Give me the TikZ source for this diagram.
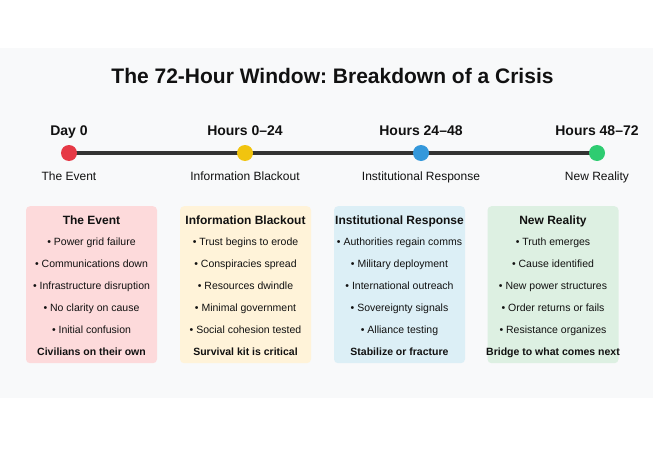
\documentclass[tikz,border=0pt]{standalone}
\usepackage{fontspec}
\setmainfont{Liberation Sans}
\usetikzlibrary{positioning}
\definecolor{panelbg}{HTML}{F8F9FA}
\definecolor{axisgray}{HTML}{333333}
\definecolor{ink}{HTML}{111111}
\definecolor{dotred}{HTML}{E63946}
\definecolor{dotyellow}{HTML}{F1C40F}
\definecolor{dotblue}{HTML}{3498DB}
\definecolor{dotgreen}{HTML}{2ECC71}
\definecolor{cardred}{HTML}{FDDADB}
\definecolor{cardyellow}{HTML}{FFF3D9}
\definecolor{cardblue}{HTML}{DCEFF6}
\definecolor{cardgreen}{HTML}{DDF0E2}
\frenchspacing

\begin{document}
\begin{tikzpicture}
[x=1pt,y=1pt,on grid,node distance=22pt,text=ink,
  empt node/.style={inner sep=0pt,outer sep=0pt},
  dot node/.style={circle,minimum size=16pt,inner sep=0pt},
  top node/.style={empt node,text height=10.5pt,text depth=3pt,
    font=\fontsize{14}{16}\selectfont\bfseries},
  low node/.style={empt node,text height=9pt,text depth=2.5pt,
    font=\fontsize{12}{14}\selectfont},
  card node/.style={rectangle,rounded corners=4pt,minimum width=131pt,
    minimum height=157pt,inner sep=0pt,anchor=north},
  head node/.style={empt node,text height=9pt,text depth=2.5pt,
    font=\fontsize{12}{14}\selectfont\bfseries},
  item node/.style={empt node,text height=7.5pt,text depth=2pt,
    font=\fontsize{10.5}{12}\selectfont},
  foot node/.style={item node,font=\fontsize{10.5}{12}\selectfont\bfseries}]

    \useasboundingbox (0,0) rectangle (653,451);
    \fill[panelbg] (0,53) rectangle (653,403);

    \node [empt node,font=\fontsize{21}{25}\selectfont\bfseries] (title) at (332.5,375)
        {The 72-Hour Window: Breakdown of a Crisis};

    % timeline
    \coordinate (t1) at (69,298);
    \coordinate (t4) at (597,298);
    \draw[axisgray,line width=4pt] (t1) -- (t4);

    \node [dot node,fill=dotred] (d1) at (t1) {};
    \node [dot node,fill=dotyellow] (d2) at (245,298) {};
    \node [dot node,fill=dotblue] (d3) at (421,298) {};
    \node [dot node,fill=dotgreen] (d4) at (t4) {};

    \node [top node] (d1t) [above=21pt of d1] {Day 0};
    \node [top node] (d2t) [above=21pt of d2] {Hours 0--24};
    \node [top node] (d3t) [above=21pt of d3] {Hours 24--48};
    \node [top node] (d4t) [above=21pt of d4] {Hours 48--72};

    \node [low node] (d1b) [below=24pt of d1] {The Event};
    \node [low node] (d2b) [below=24pt of d2] {Information Blackout};
    \node [low node] (d3b) [below=24pt of d3] {Institutional Response};
    \node [low node] (d4b) [below=24pt of d4] {New Reality};

    % phase cards
    \node [card node,fill=cardred] (c1) at (91.5,245) {};
    \node [head node] (h1) [below=9pt of c1.north] {The Event};
    \node [item node] (b11) [below=21.8pt of h1] {\textbullet\ Power grid failure};
    \node [item node] (b12) [below=of b11] {\textbullet\ Communications down};
    \node [item node] (b13) [below=of b12] {\textbullet\ Infrastructure disruption};
    \node [item node] (b14) [below=of b13] {\textbullet\ No clarity on cause};
    \node [item node] (b15) [below=of b14] {\textbullet\ Initial confusion};
    \node [foot node] (f1) [below=of b15] {Civilians on their own};

    \node [card node,fill=cardyellow] (c2) at (245.5,245) {};
    \node [head node] (h2) [below=9pt of c2.north] {Information Blackout};
    \node [item node] (b21) [below=21.8pt of h2] {\textbullet\ Trust begins to erode};
    \node [item node] (b22) [below=of b21] {\textbullet\ Conspiracies spread};
    \node [item node] (b23) [below=of b22] {\textbullet\ Resources dwindle};
    \node [item node] (b24) [below=of b23] {\textbullet\ Minimal government};
    \node [item node] (b25) [below=of b24] {\textbullet\ Social cohesion tested};
    \node [foot node] (f2) [below=of b25] {Survival kit is critical};

    \node [card node,fill=cardblue] (c3) at (399.5,245) {};
    \node [head node] (h3) [below=9pt of c3.north] {Institutional Response};
    \node [item node] (b31) [below=21.8pt of h3] {\textbullet\ Authorities regain comms};
    \node [item node] (b32) [below=of b31] {\textbullet\ Military deployment};
    \node [item node] (b33) [below=of b32] {\textbullet\ International outreach};
    \node [item node] (b34) [below=of b33] {\textbullet\ Sovereignty signals};
    \node [item node] (b35) [below=of b34] {\textbullet\ Alliance testing};
    \node [foot node] (f3) [below=of b35] {Stabilize or fracture};

    \node [card node,fill=cardgreen] (c4) at (553,245) {};
    \node [head node] (h4) [below=9pt of c4.north] {New Reality};
    \node [item node] (b41) [below=21.8pt of h4] {\textbullet\ Truth emerges};
    \node [item node] (b42) [below=of b41] {\textbullet\ Cause identified};
    \node [item node] (b43) [below=of b42] {\textbullet\ New power structures};
    \node [item node] (b44) [below=of b43] {\textbullet\ Order returns or fails};
    \node [item node] (b45) [below=of b44] {\textbullet\ Resistance organizes};
    \node [foot node] (f4) [below=of b45] {Bridge to what comes next};
\end{tikzpicture}
\end{document}
